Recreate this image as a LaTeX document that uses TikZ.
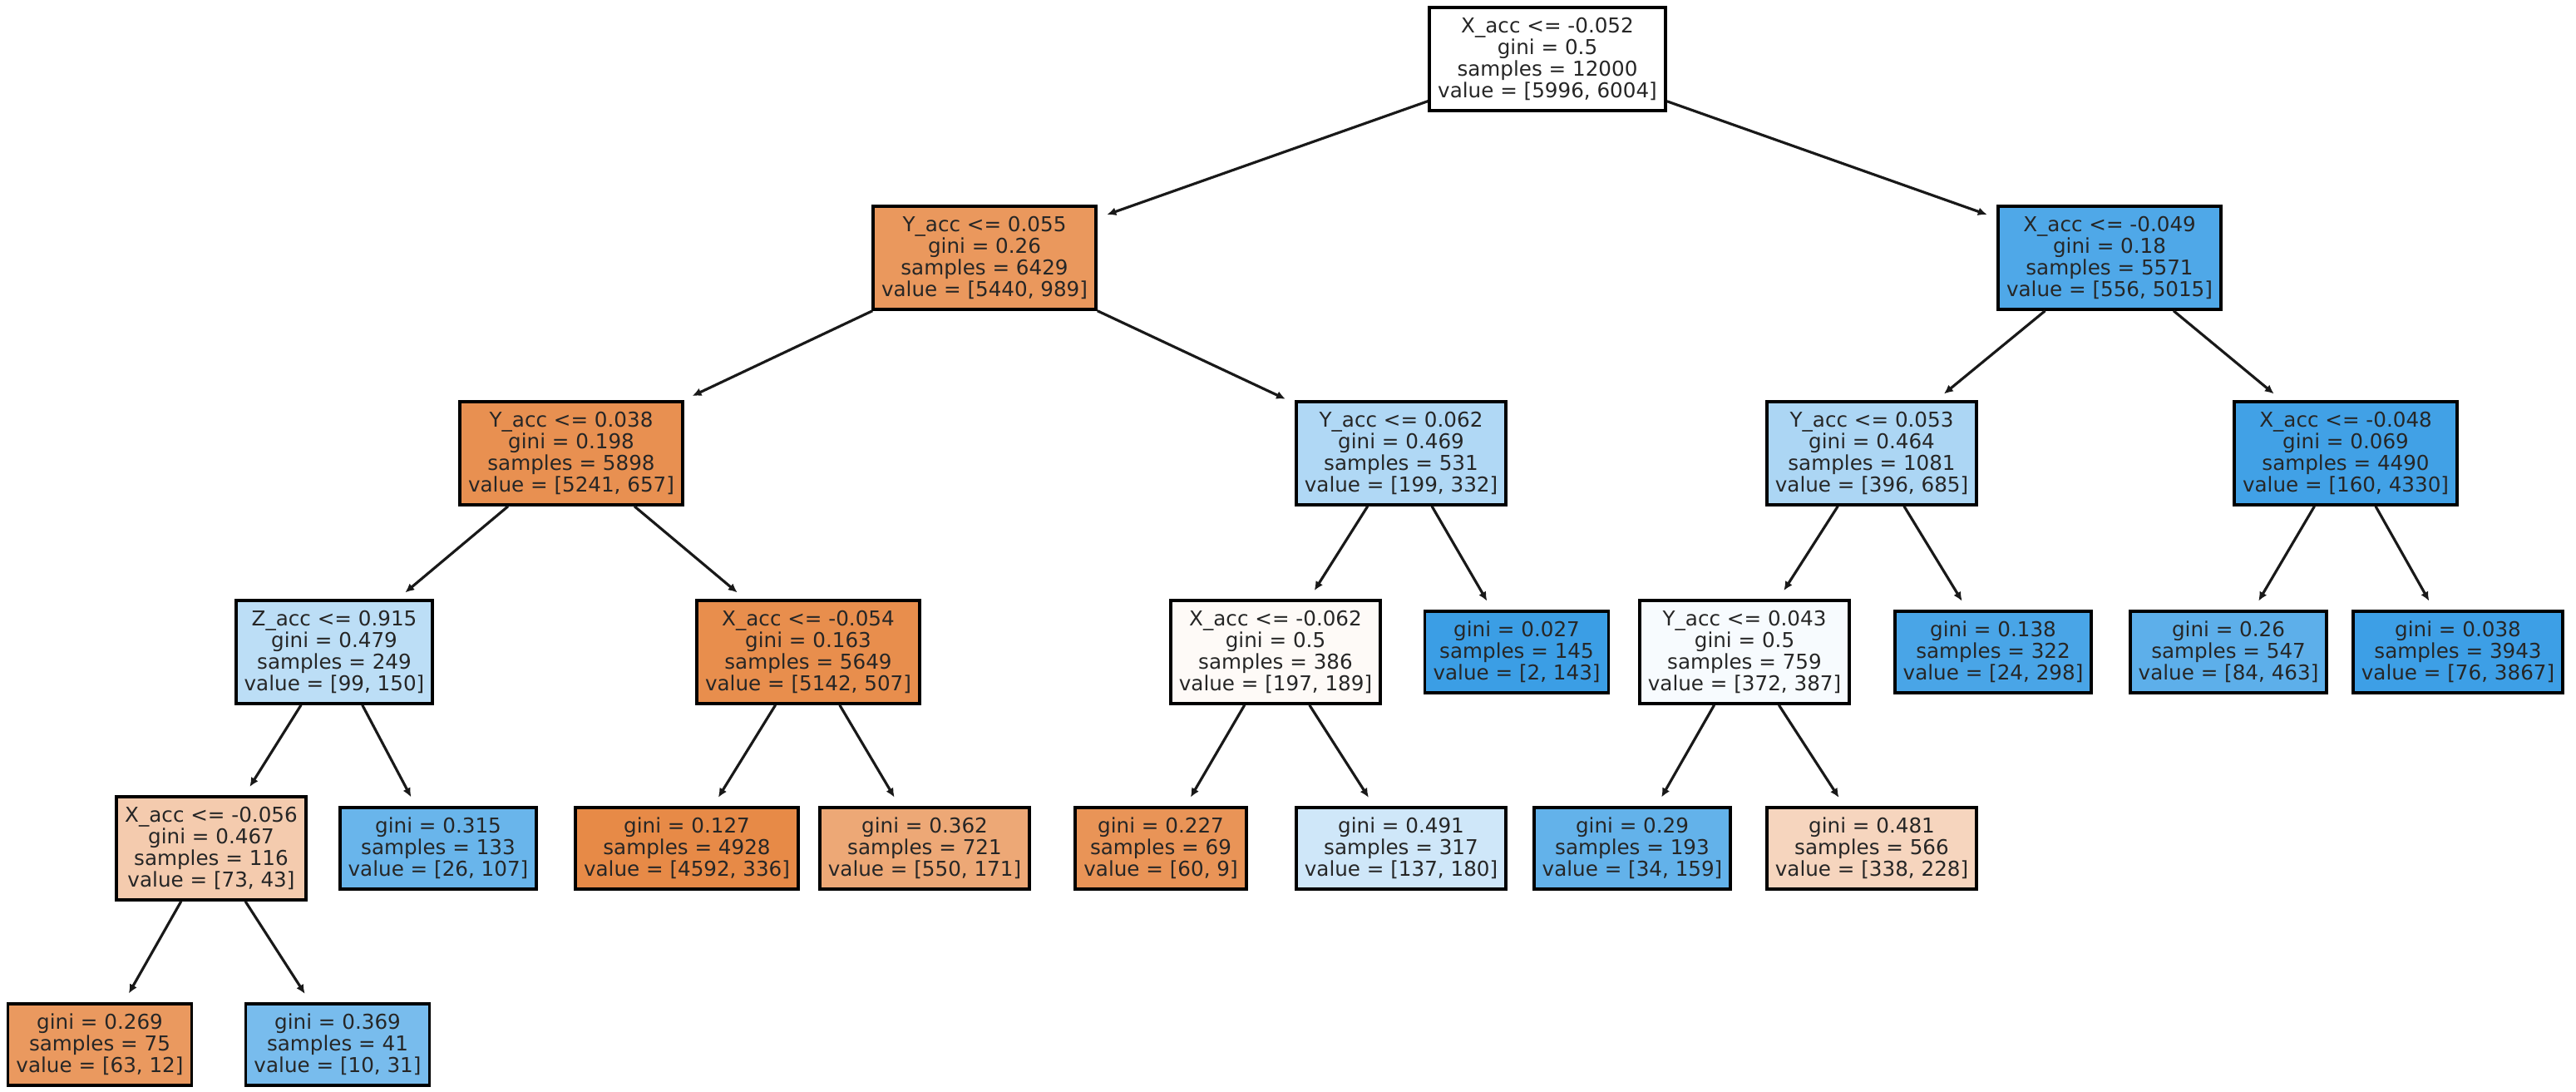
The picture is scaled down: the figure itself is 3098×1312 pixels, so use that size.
\documentclass[tikz,border=0pt]{standalone}
\usepackage{fontspec}
\setmainfont{DejaVu Sans}
\usetikzlibrary{arrows.meta}
\definecolor{cA}{RGB}{229,129,57}
\definecolor{cB}{RGB}{57,157,229}
\tikzset{
  tn/.style={draw=black, line width=1.1pt, align=center,
    font=\fontsize{7}{7.4}\selectfont, inner xsep=0.1cm, inner ysep=0.12cm, text=black!85},
  edge/.style={-{Latex[length=0.11cm,width=0.1cm]}, line width=0.9pt, shorten >=0.12cm, draw=black!90}
}
\begin{document}
\begin{tikzpicture}[x=0.01cm,y=-0.01cm]
\useasboundingbox (0,0) rectangle (3098,1312);
% level 0
\node[tn, fill=white] (n0) at (1861,71) {X\_acc <= -0.052\\gini = 0.5\\samples = 12000\\value = [5996, 6004]};
% level 1
\node[tn, fill=cA!82!white] (n1) at (1184,310) {Y\_acc <= 0.055\\gini = 0.26\\samples = 6429\\value = [5440, 989]};
\node[tn, fill=cB!89!white] (n2) at (2537,310) {X\_acc <= -0.049\\gini = 0.18\\samples = 5571\\value = [556, 5015]};
% level 2
\node[tn, fill=cA!88!white] (n3) at (687,545) {Y\_acc <= 0.038\\gini = 0.198\\samples = 5898\\value = [5241, 657]};
\node[tn, fill=cB!40!white] (n4) at (1685,545) {Y\_acc <= 0.062\\gini = 0.469\\samples = 531\\value = [199, 332]};
\node[tn, fill=cB!42!white] (n5) at (2251,545) {Y\_acc <= 0.053\\gini = 0.464\\samples = 1081\\value = [396, 685]};
\node[tn, fill=cB!96!white] (n6) at (2821,545) {X\_acc <= -0.048\\gini = 0.069\\samples = 4490\\value = [160, 4330]};
% level 3
\node[tn, fill=cB!34!white] (n7) at (402,784) {Z\_acc <= 0.915\\gini = 0.479\\samples = 249\\value = [99, 150]};
\node[tn, fill=cA!90!white] (n8) at (972,784) {X\_acc <= -0.054\\gini = 0.163\\samples = 5649\\value = [5142, 507]};
\node[tn, fill=cA!4!white] (n9) at (1534,784) {X\_acc <= -0.062\\gini = 0.5\\samples = 386\\value = [197, 189]};
\node[tn, fill=cB!99!white] (n10) at (1824,784) {gini = 0.027\\samples = 145\\value = [2, 143]};
\node[tn, fill=cB!4!white] (n11) at (2098,784) {Y\_acc <= 0.043\\gini = 0.5\\samples = 759\\value = [372, 387]};
\node[tn, fill=cB!92!white] (n12) at (2397,784) {gini = 0.138\\samples = 322\\value = [24, 298]};
\node[tn, fill=cB!82!white] (n13) at (2680,784) {gini = 0.26\\samples = 547\\value = [84, 463]};
\node[tn, fill=cB!98!white] (n14) at (2956,784) {gini = 0.038\\samples = 3943\\value = [76, 3867]};
% level 4
\node[tn, fill=cA!41!white] (n15) at (254,1020) {X\_acc <= -0.056\\gini = 0.467\\samples = 116\\value = [73, 43]};
\node[tn, fill=cB!76!white] (n16) at (527,1020) {gini = 0.315\\samples = 133\\value = [26, 107]};
\node[tn, fill=cA!93!white] (n17) at (826,1020) {gini = 0.127\\samples = 4928\\value = [4592, 336]};
\node[tn, fill=cA!69!white] (n18) at (1112,1020) {gini = 0.362\\samples = 721\\value = [550, 171]};
\node[tn, fill=cA!85!white] (n19) at (1396,1020) {gini = 0.227\\samples = 69\\value = [60, 9]};
\node[tn, fill=cB!24!white] (n20) at (1685,1020) {gini = 0.491\\samples = 317\\value = [137, 180]};
\node[tn, fill=cB!79!white] (n21) at (1963,1020) {gini = 0.29\\samples = 193\\value = [34, 159]};
\node[tn, fill=cA!33!white] (n22) at (2251,1020) {gini = 0.481\\samples = 566\\value = [338, 228]};
% level 5
\node[tn, fill=cA!81!white] (n23) at (120,1256) {gini = 0.269\\samples = 75\\value = [63, 12]};
\node[tn, fill=cB!68!white] (n24) at (406,1256) {gini = 0.369\\samples = 41\\value = [10, 31]};
% edges
\foreach \a/\b in {n0/n1,n0/n2,n1/n3,n1/n4,n2/n5,n2/n6,n3/n7,n3/n8,n4/n9,n4/n10,n5/n11,n5/n12,n6/n13,n6/n14,n7/n15,n7/n16,n8/n17,n8/n18,n9/n19,n9/n20,n11/n21,n11/n22,n15/n23,n15/n24}
  \draw[edge] (\a) -- (\b);
\end{tikzpicture}
\end{document}
